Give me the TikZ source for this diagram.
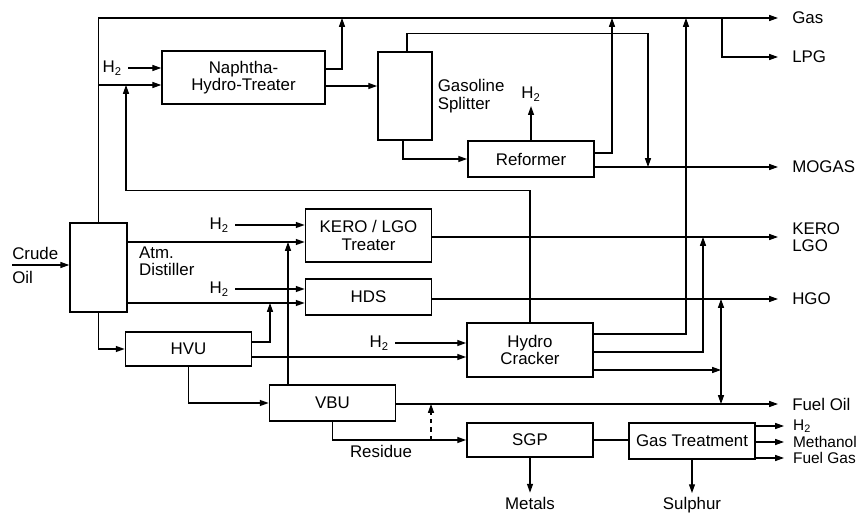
\documentclass[tikz,border=0pt]{standalone}
\usepackage{fontspec}
\setmainfont{Liberation Sans}
\usetikzlibrary{arrows.meta, positioning}
\tikzset{
    >={Triangle[length=0.22cm, width=0.15cm]},
    unit/.style={
        rectangle, draw=black, line width=1.2pt, text centered, align=center,
        minimum width=3.15cm, minimum height=0.9cm, inner sep=1pt
    },
    column/.style={
        unit, minimum width=1.4cm, minimum height=2.2cm
    },
    pipe/.style={
        line width=0.8pt
    },
    flow/.style={
        ->, pipe
    },
    twoway/.style={
        <->, pipe
    },
    feed/.style={
        anchor=east, inner xsep=0.15cm, inner ysep=0pt
    },
    product/.style={
        anchor=west, inner xsep=0.35cm, inner ysep=0pt, align=left
    },
    gasproduct/.style={
        product, inner xsep=0.22cm, font=\fontsize{11}{11.5}\selectfont
    },
    residual/.style={
        anchor=north, inner sep=0.1cm
    }
}

\begin{document}
\begin{tikzpicture}[x=0.025cm, y=-0.025cm, font=\fontsize{12}{12.5}\selectfont]
    \useasboundingbox (0,0) rectangle (864,514);

    \node[column, minimum width=1.42cm, minimum height=2.22cm] (dist)   at (98.5,267.5) {};
    \node[unit, minimum width=4.07cm, minimum height=1.32cm]   (nht)    at (243.5,77.5) {Naphtha-\\Hydro-Treater};
    \node[column, minimum width=1.35cm, minimum height=2.2cm]  (split)  at (405,96)     {};
    \node[unit]                                                (reform) at (531,159)    {Reformer};
    \node[unit, minimum height=1.32cm]                         (kero)   at (368.5,235.5) {KERO / LGO\\Treater};
    \node[unit]                                                (hds)    at (368.5,297)  {HDS};
    \node[unit, minimum height=0.85cm]                         (hvu)    at (188.5,349)  {HVU};
    \node[unit, minimum height=1.35cm]                         (hc)     at (530,350)    {Hydro\\Cracker};
    \node[unit]                                                (vbu)    at (332.5,403)  {VBU};
    \node[unit, minimum height=0.85cm]                         (sgp)    at (530,440)    {SGP};
    \node[unit]                                                (gt)     at (692,441)    {Gas Treatment};

    \node[right=0pt of split, align=left]               (splitlbl) {Gasoline\\Splitter};
    \node[right=0.16cm of dist, yshift=0.16cm, align=left] (distlbl) {Atm.\\Distiller};
    \node[above=0.85cm of reform]                       (h2ref)    {H\textsubscript{2}};
    \node[below=0.87cm of sgp, residual]                (metals)   {Metals};
    \node[below=0.83cm of gt, residual]                 (sulphur)  {Sulphur};
    \node                                               (residue) at (381,451) {Residue};
    \node[anchor=west, inner sep=0pt]                   (crude) at (12,253) {Crude};
    \node[anchor=west, inner sep=0pt]                   (oil)   at (12,277) {Oil};

    \node[feed] (h2a) at (128,68)  {H\textsubscript{2}};
    \node[feed] (h2b) at (235,225) {H\textsubscript{2}};
    \node[feed] (h2c) at (235,289) {H\textsubscript{2}};
    \node[feed] (h2d) at (395,343) {H\textsubscript{2}};

    \node[product] (gas)     at (778,18)  {Gas};
    \node[product] (lpg)     at (778,57)  {LPG};
    \node[product] (mogas)   at (778,167) {MOGAS};
    \node[product] (kerolgo) at (778,237) {KERO\\LGO};
    \node[product] (hgo)     at (778,299) {HGO};
    \node[product] (fueloil) at (778,404) {Fuel Oil};
    \node[gasproduct] (h2out)    at (784,426) {H\textsubscript{2}};
    \node[gasproduct] (methanol) at (784,442) {Methanol};
    \node[gasproduct] (fuelgas)  at (784,458) {Fuel Gas};

    \coordinate (crudein)  at (12,265);
    \coordinate (t1)       at (342,18);
    \coordinate (t2)       at (612,18);
    \coordinate (t3)       at (686,18);
    \coordinate (lpgtap)   at (722,18);
    \coordinate (mogtap)   at (648,167);
    \coordinate (kerotap)  at (703,237);
    \coordinate (hgotap)   at (721,299);
    \coordinate (fotap)    at (721,404);
    \coordinate (hcsplit)  at (721,370);
    \coordinate (nhtfeed)  at (126,85);
    \coordinate (kerofeed) at (288,242);
    \coordinate (hdsfeed)  at (270,303);
    \coordinate (resup)    at (431,404);
    \coordinate (resdn)    at (431,440);

    \draw[flow] (crudein) -- (dist.west |- crudein);
    \draw[flow] (dist.north) |- (gas.west);
    \draw[flow] (lpgtap) |- (lpg.west);
    \draw[flow] (dist.north |- nhtfeed) -- (nht.west |- nhtfeed);
    \draw[flow] (h2a) -- (nht.west |- h2a);
    \draw[flow] (nht.east |- 0,69) -| (t1);
    \draw[flow] (nht.east |- 0,86) -- (split.west |- 0,86);
    \draw[flow] (split.north -| 407,0) -- ++(0,-18) -| (mogtap);
    \draw[flow] (split.south -| 403,0) |- (reform.west);
    \draw[flow] (reform.north) -- (h2ref.south);
    \draw[flow] (reform.east |- 0,153) -| (t2);
    \draw[flow] (reform.east |- mogas.west) -- (mogas.west);

    \draw[flow] (dist.east |- kerofeed) -- (kero.west |- kerofeed);
    \draw[flow] (h2b) -- (kero.west |- h2b);
    \draw[flow] (kero.east |- kerolgo.west) -- (kerolgo.west);
    \draw[flow] (dist.east |- hdsfeed) -- (hds.west |- hdsfeed);
    \draw[flow] (h2c) -- (hds.west |- h2c);
    \draw[flow] (hds.east |- hgo.west) -- (hgo.west);

    \draw[flow] (dist.south) |- (hvu.west);
    \draw[flow] (hvu.east |- 0,342) -| (hdsfeed);
    \draw[flow] (hvu.east |- 0,357) -- (hc.west |- 0,357);
    \draw[flow] (h2d) -- (hc.west |- h2d);
    \draw[flow] (hvu.south) |- (vbu.west);
    \draw[flow] (vbu.north -| kerofeed) -- (kerofeed);
    \draw[flow] (vbu.east |- fueloil.west) -- (fueloil.west);
    \draw[flow] (vbu.south) |- (sgp.west);
    \draw[flow, dashed] (resdn) -- (resup);

    \draw[flow] (hc.north) -- ++(0,-132) -| (nhtfeed);
    \draw[flow] (hc.east |- 0,334) -| (t3);
    \draw[flow] (hc.east |- 0,352) -| (kerotap);
    \draw[flow] (hc.east |- hcsplit) -- (hcsplit);
    \draw[twoway] (hgotap) -- (fotap);

    \draw[pipe] (sgp.east) -- (gt.west |- sgp.east);
    \draw[flow] (gt.east |- h2out.west) -- (h2out.west);
    \draw[flow] (gt.east |- methanol.west) -- (methanol.west);
    \draw[flow] (gt.east |- fuelgas.west) -- (fuelgas.west);
    \draw[flow] (sgp.south) -- (metals.north);
    \draw[flow] (gt.south) -- (sulphur.north);

\end{tikzpicture}
\end{document}
